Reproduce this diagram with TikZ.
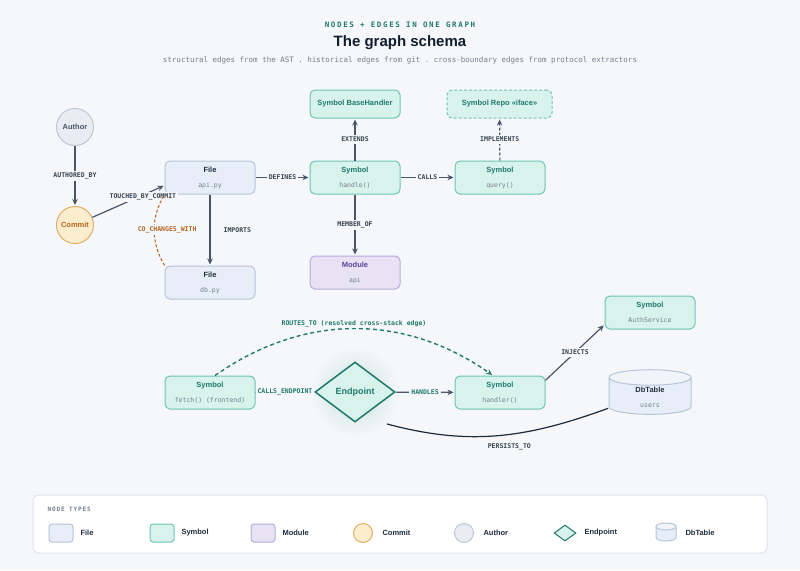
\documentclass[tikz,border=0pt]{standalone}
\usepackage{fontspec}
\setmainfont{Liberation Sans}
\setsansfont{Liberation Sans}
\setmonofont{DejaVu Sans Mono}
\usepackage{tikz}
\usepackage{xcolor}
\usetikzlibrary{arrows.meta}
\usetikzlibrary{shapes,backgrounds}

\definecolor{bgcol}{HTML}{F5F7FB}
\definecolor{edgecol}{HTML}{4A5568}
\definecolor{labcol}{HTML}{37424F}
\definecolor{subgrey}{HTML}{747F8C}
\definecolor{titlecol}{HTML}{111D2E}
\definecolor{tealcol}{HTML}{1F7A6C}
\definecolor{filefill}{HTML}{E8EEF7}
\definecolor{fileline}{HTML}{B6C4D8}
\definecolor{filetext}{HTML}{1F2D3D}
\definecolor{symfill}{HTML}{D8F2EC}
\definecolor{symline}{HTML}{6EC4B3}
\definecolor{modfill}{HTML}{E7E3F5}
\definecolor{modline}{HTML}{B5ABDA}
\definecolor{modtext}{HTML}{56469A}
\definecolor{comfill}{HTML}{FDEDCF}
\definecolor{comline}{HTML}{E3AE62}
\definecolor{comtext}{HTML}{B5651D}
\definecolor{autfill}{HTML}{E9EDF3}
\definecolor{autline}{HTML}{BDC7D4}
\definecolor{navycol}{HTML}{1E2B3C}
\definecolor{legline}{HTML}{DEE3EA}

\newcommand{\ntitle}[1]{{\sffamily\bfseries\fontsize{7.5}{9}\selectfont #1}}
\newcommand{\nsub}[1]{{\ttfamily\fontsize{6.5}{8}\selectfont\color{subgrey}#1}}

\begin{document}
\begin{tikzpicture}[x=1pt,y=1pt,>={Stealth[length=6pt,width=5.5pt]},shorten >=1pt,
    box/.style={rectangle,rounded corners=5pt,draw,line width=1pt,minimum width=90pt,
                minimum height=33pt,align=center,inner sep=2pt},
    file node/.style={box,fill=filefill,draw=fileline,text=filetext},
    sym node/.style={box,fill=symfill,draw=symline,text=tealcol},
    mod node/.style={box,fill=modfill,draw=modline,text=modtext},
    round node/.style={circle,draw,line width=1pt,minimum size=37pt,inner sep=0pt,
                font=\sffamily\bfseries\fontsize{7.5}{9}\selectfont},
    elabel/.style={font=\ttfamily\bfseries\fontsize{6.5}{8}\selectfont,text=labcol,
                fill=bgcol,inner sep=2pt},
    swatch/.style={rectangle,rounded corners=3pt,line width=1pt,minimum width=24pt,
                minimum height=18pt,inner sep=0pt},
    legtext/.style={anchor=west,font=\sffamily\bfseries\fontsize{7.5}{9}\selectfont,
                text=filetext}]

  \fill[bgcol] (0,0) rectangle (800,-570);
  \useasboundingbox (0,0) rectangle (800,-570);

  % header
  \node (kicker) at (400,-25) {\ttfamily\bfseries\fontsize{7.5}{9}\selectfont
    \addfontfeatures{LetterSpace=22}\color{tealcol}NODES + EDGES IN ONE GRAPH};
  \node (title) at (400,-43) {\sffamily\bfseries\fontsize{15}{18}\selectfont
    \color{titlecol}The graph schema};
  \node (subtitle) at (400,-60) {\ttfamily\fontsize{7.5}{9}\selectfont\color{subgrey}
    structural edges from the AST . historical edges from git . cross-boundary edges from protocol extractors};

  % history
  \node[round node,fill=autfill,draw=autline,text=edgecol] (author) at (75,-127) {Author};
  \node[round node,fill=comfill,draw=comline,text=comtext] (commit) at (75,-225) {Commit};

  % structure
  \node[file node] (api) at (210,-177.5) {\ntitle{File}\\[3pt]\nsub{api.py}};
  \node[file node] (db) at (210,-282.5) {\ntitle{File}\\[3pt]\nsub{db.py}};
  \node[sym node] (handle) at (355,-177.5) {\ntitle{Symbol}\\[3pt]\nsub{handle()}};
  \node[sym node,minimum height=28pt] (base) at (355,-104) {\ntitle{Symbol BaseHandler}};
  \node[sym node,minimum height=28pt,minimum width=105pt,dash pattern=on 3pt off 2pt]
    (repo) at (499.5,-104) {\ntitle{Symbol Repo «iface»}};
  \node[sym node] (query) at (500,-177.5) {\ntitle{Symbol}\\[3pt]\nsub{query()}};
  \node[mod node] (module) at (355,-272.5) {\ntitle{Module}\\[3pt]\nsub{api}};

  % cross-boundary
  \node[sym node] (fetch) at (210,-392.5) {\ntitle{Symbol}\\[3pt]\nsub{fetch() (frontend)}};
  \node[circle,minimum size=90pt,inner color=tealcol!24,outer color=bgcol] (glow) at (355,-392) {};
  \node[diamond,draw=tealcol,fill=symfill,line width=1.5pt,minimum width=80pt,minimum height=60pt,
        inner sep=0pt,text=tealcol,font=\sffamily\bfseries\fontsize{9}{11}\selectfont]
    (endpoint) at (355,-392) {Endpoint};
  \node[sym node] (handler) at (500,-392.5) {\ntitle{Symbol}\\[3pt]\nsub{handler()}};
  \node[sym node] (auth) at (650,-312.5) {\ntitle{Symbol}\\[3pt]\nsub{AuthService}};
  \node[cylinder,shape border rotate=90,aspect=0.5,draw=fileline,line width=1pt,
        cylinder uses custom fill,cylinder body fill=filefill,cylinder end fill=filefill!60!white,
        minimum width=82pt,minimum height=36pt,align=center,inner sep=1pt,text=filetext]
    (dbt) at (650,-397) {\ntitle{DbTable}\\[3pt]\nsub{users}};

  \path[every node/.style={elabel},every edge/.style={draw=edgecol,line width=1.2pt}]
    (author) edge[->] node {AUTHORED\_BY} (commit)
    (commit) edge[->] node[pos=0.7,yshift=-2pt] {TOUCHED\_BY\_COMMIT} (api.190)
    (api)    edge[->] node[right,fill=none,xshift=11pt] {IMPORTS} (db)
             edge[->] node {DEFINES} (handle)
    (handle) edge[->] node {EXTENDS} (base)
             edge[->] node {CALLS} (query)
             edge[->] node {MEMBER\_OF} (module)
    (query)  edge[->,dash pattern=on 3pt off 2pt] node {IMPLEMENTS} (repo)
    (db.north west) edge[draw=comtext,dash pattern=on 3pt off 2pt,bend left=30,line width=1pt]
             node[text=comtext,xshift=13pt] {CO\_CHANGES\_WITH} (api.south west)
    (fetch)  edge node[text=tealcol] {CALLS\_ENDPOINT} (endpoint)
    ([xshift=5pt]fetch.north) edge[->,draw=tealcol,dash pattern=on 4pt off 3pt,bend left=35,line width=1.4pt]
             node[above,inner sep=1pt,text=tealcol] {ROUTES\_TO (resolved cross-stack edge)} ([xshift=-7pt]handler.north)
    (endpoint) edge[->] node[text=tealcol] {HANDLES} (handler)
    (handler.15) edge[->] node {INJECTS} (auth.195)
    (glow.-45) edge[draw=navycol,out=-15,in=200]
             node[pos=0.55,below=7pt,fill=none] {PERSISTS\_TO} (dbt.195)
    ;

  % legend
  \node[rectangle,rounded corners=6pt,fill=white,draw=legline,line width=1pt,
        minimum width=734pt,minimum height=58pt] (legend) at (400,-524) {};
  \node[anchor=west,font=\ttfamily\bfseries\fontsize{6}{7}\selectfont,text=subgrey] (legtitle) at (44,-509)
    {\addfontfeatures{LetterSpace=15}NODE TYPES};
  \node[swatch,fill=filefill,draw=fileline] (lgfile) at (61,-533) {};
  \node[legtext] (lgfilet) at (77,-533) {File};
  \node[swatch,fill=symfill,draw=symline] (lgsym) at (162,-533) {};
  \node[legtext] (lgsymt) at (178,-533) {Symbol};
  \node[swatch,fill=modfill,draw=modline] (lgmod) at (263,-533) {};
  \node[legtext] (lgmodt) at (279,-533) {Module};
  \node[circle,minimum size=19pt,inner sep=0pt,fill=comfill,draw=comline,line width=1pt] (lgcom) at (363,-533) {};
  \node[legtext] (lgcomt) at (379,-533) {Commit};
  \node[circle,minimum size=19pt,inner sep=0pt,fill=autfill,draw=autline,line width=1pt] (lgaut) at (464,-533) {};
  \node[legtext] (lgautt) at (480,-533) {Author};
  \node[diamond,minimum width=22pt,minimum height=16pt,inner sep=0pt,fill=symfill,draw=tealcol,line width=1pt] (lgep) at (565,-533) {};
  \node[legtext] (lgept) at (581,-533) {Endpoint};
  % small db icon
  \begin{scope}[shift={(666,-532)},line width=1pt,draw=fileline]
    \filldraw[fill=filefill] (-10,5.5) -- (-10,-5.5) arc[start angle=180,end angle=360,x radius=10,y radius=3.5] -- (10,5.5);
    \filldraw[fill=filefill!60!white] (0,5.5) ellipse[x radius=10,y radius=3.5];
  \end{scope}
  \node[legtext] (lgdbt) at (682,-533) {DbTable};
\end{tikzpicture}
\end{document}
